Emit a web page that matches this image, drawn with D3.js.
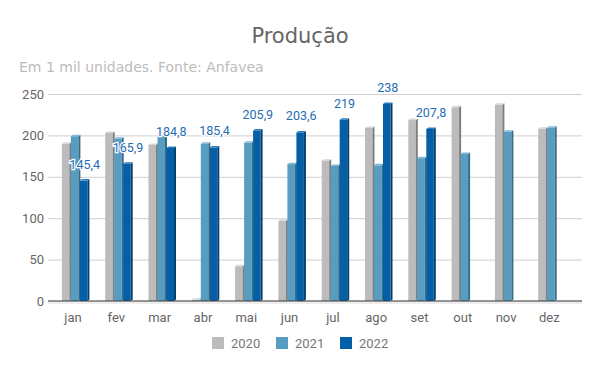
<!DOCTYPE html>
<html>
<head>
<meta charset="utf-8">
<script src="https://cdn.jsdelivr.net/npm/d3@7"></script>
<style>
  body { margin: 0; background: #fff; }
  svg { display: block; }
</style>
</head>
<body>
<svg id="chart" width="600" height="371"></svg>
<script>
const months = ["jan", "fev", "mar", "abr", "mai", "jun", "jul", "ago", "set", "out", "nov", "dez"];
const years = ["2020", "2021", "2022"];
const values2020 = [190, 203, 188.5, 1.5, 42, 96.5, 169.5, 209, 218.5, 234, 237, 208];
const values2021 = [199, 196, 198, 190, 191, 165.3, 163, 163.8, 172.5, 177.5, 204.5, 209.2];
const values2022 = [145.4, 165.9, 184.8, 185.4, 205.9, 203.6, 219, 238, 207.8, null, null, null];
const yTicks = [0, 50, 100, 150, 200, 250];

const colors = {
  "2020": { front: "#bcbcbc", side: "#7e7e7e", top: "#d6d6d6" },
  "2021": { front: "#579dc1", side: "#376c89", top: "#7fb6d3" },
  "2022": { front: "#045fa7", side: "#02406f", top: "#2c7dbd" }
};

const svg = d3.select("#chart");

let series = [values2020, values2021, values2022];

// scales
let x = d3.scaleBand()
  .domain(months)
  .range([51.4, 571]);

let x1 = d3.scaleBand()
  .domain(years)
  .range([0, 27]);

let y = d3.scaleLinear()
  .domain([0, 250])
  .range([301, 94]);

// title
svg.append("text")
  .attr("x", 300)
  .attr("y", 43)
  .attr("text-anchor", "middle")
  .attr("font-family", "DejaVu Sans")
  .attr("font-size", 21)
  .attr("fill", "#666")
  .text("Produção");

svg.append("text")
  .attr("x", 19)
  .attr("y", 72)
  .attr("font-family", "DejaVu Sans")
  .attr("font-size", 14)
  .attr("fill", "#bcbcbc")
  .text("Em 1 mil unidades. Fonte: Anfavea");

// gridlines
svg.append("g")
  .selectAll("line")
  .data(yTicks.filter(d => d > 0))
  .join("line")
  .attr("x1", 48)
  .attr("x2", 582)
  .attr("y1", d => y(d) + 0.5)
  .attr("y2", d => y(d) + 0.5)
  .attr("stroke", "#cfcfcf")
  .attr("stroke-width", 1);

// y axis labels
let yAxis = svg.append("g")
  .attr("transform", "translate(44,0)")
  .call(d3.axisLeft(y).tickValues(yTicks).tickSize(0).tickPadding(0));
yAxis.select(".domain").remove();
yAxis.selectAll("text")
  .attr("font-family", "Roboto")
  .attr("font-size", 13)
  .attr("fill", "#666");

// floor shadow
svg.append("rect")
  .attr("x", 48)
  .attr("y", 301)
  .attr("width", 534)
  .attr("height", 3)
  .attr("fill", "#eeeeee");

// bars
let bars = [];
months.forEach(function (m, i) {
  years.forEach(function (yr, j) {
    let v = series[j][i];
    if (v != null) bars.push({ month: m, year: yr, value: v });
  });
});

let barW = 7.5, depth = 2, rise = 1.5;
let g = svg.append("g");
let barG = g.selectAll("g.bar")
  .data(bars)
  .join("g")
  .attr("class", "bar")
  .attr("transform", d => `translate(${x(d.month) + 10.5 + x1(d.year)},0)`);

barG.append("rect")
  .attr("x", 0)
  .attr("y", d => y(d.value))
  .attr("width", barW)
  .attr("height", d => y(0) - y(d.value))
  .attr("fill", d => colors[d.year].front);

barG.append("path")
  .attr("d", function (d) {
    let t = y(d.value);
    return `M${barW},${t} L${barW + depth},${t - rise} L${barW + depth},${y(0) - rise} L${barW},${y(0)} Z`;
  })
  .attr("fill", d => colors[d.year].side);

barG.append("path")
  .attr("d", function (d) {
    let t = y(d.value);
    return `M0,${t} L${depth},${t - rise} L${barW + depth},${t - rise} L${barW},${t} Z`;
  })
  .attr("fill", d => colors[d.year].top);

// x axis line
svg.append("line")
  .attr("x1", 48)
  .attr("x2", 582)
  .attr("y1", 301)
  .attr("y2", 301)
  .attr("stroke", "#333")
  .attr("stroke-width", 1.2);

// x axis labels
let xAxis = svg.append("g")
  .attr("transform", "translate(0,310)")
  .call(d3.axisBottom(x).tickSize(0).tickPadding(3));
xAxis.select(".domain").remove();
xAxis.selectAll("text")
  .attr("font-family", "Roboto")
  .attr("font-size", 13)
  .attr("fill", "#666");

// data labels on 2022
let labelData = bars.filter(d => d.year === "2022");
svg.append("g")
  .selectAll("text")
  .data(labelData)
  .join("text")
  .attr("x", d => x(d.month) + 10.5 + x1(d.year) + barW / 2 + 1)
  .attr("y", d => y(d.value) - 12)
  .attr("text-anchor", "middle")
  .attr("font-family", "Roboto")
  .attr("font-size", 12.5)
  .attr("fill", "#1f6db3")
  .attr("stroke", "#fff")
  .attr("stroke-width", 2.5)
  .attr("paint-order", "stroke")
  .text(d => d3.format(".1f")(d.value).replace(".", ",").replace(",0", ""));

// legend
let legend = svg.append("g")
  .selectAll("g")
  .data(years)
  .join("g")
  .attr("transform", (d, i) => `translate(${212 + i * 64},337)`);

legend.append("rect")
  .attr("width", 12)
  .attr("height", 12)
  .attr("fill", d => colors[d].front);

legend.append("text")
  .attr("x", 19)
  .attr("y", 11)
  .attr("font-family", "Roboto")
  .attr("font-size", 13)
  .attr("fill", "#777")
  .text(d => d);
</script>
</body>
</html>
